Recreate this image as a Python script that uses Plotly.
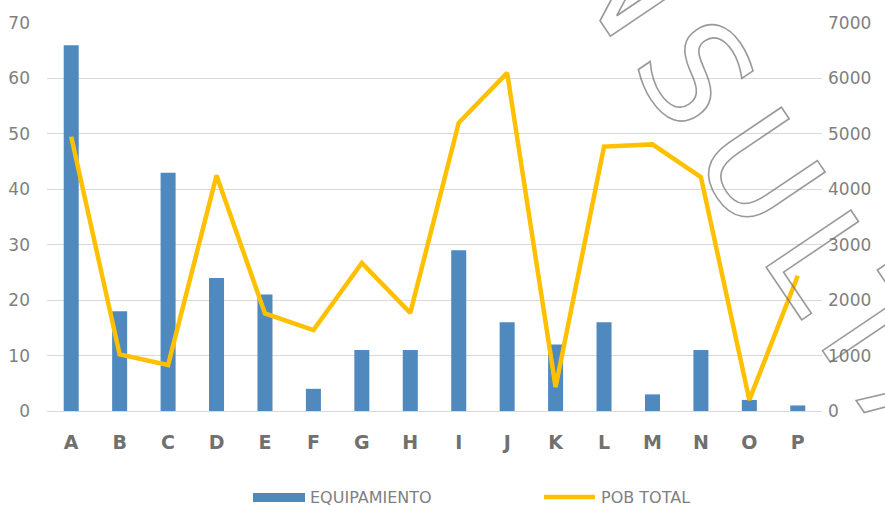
import plotly.graph_objects as go

# Data
categories = ["A", "B", "C", "D", "E", "F", "G", "H", "I", "J", "K", "L", "M", "N", "O", "P"]
equipamiento = [66, 18, 43, 24, 21, 4, 11, 11, 29, 16, 12, 16, 3, 11, 2, 1]
pob_total = [4950, 1020, 830, 4250, 1760, 1460, 2670, 1770, 5200, 6100, 430, 4770, 4810, 4220, 200, 2440]
left_ticks = [0, 10, 20, 30, 40, 50, 60, 70]
right_ticks = [0, 1000, 2000, 3000, 4000, 5000, 6000, 7000]

BAR_COLOR = "#4f89bd"
LINE_COLOR = "#ffc000"
GRID = "#d9d9d9"
TICK_GRAY = "#7f7f7f"
FONT = "DejaVu Sans"

# plot area in pixels, used to place legend items in paper coordinates
PL, PR, PT, PB = 47, 822, 23, 411


def px(x):
    return (x - PL) / (PR - PL)


def py(y):
    return (PB - y) / (PB - PT)


fig = go.Figure()
fig.add_trace(go.Bar(
    x=categories, y=equipamiento, name="EQUIPAMIENTO",
    marker=dict(color=BAR_COLOR, line=dict(width=0)),
    yaxis="y", showlegend=False,
))
fig.add_trace(go.Scatter(
    x=categories, y=pob_total, name="POB TOTAL", mode="lines",
    line=dict(color=LINE_COLOR, width=4.5),
    yaxis="y2", showlegend=False,
))

fig.update_layout(
    width=885, height=506,
    margin=dict(l=PL, r=885 - PR, t=PT, b=506 - PB),
    paper_bgcolor="white", plot_bgcolor="white",
    bargap=0.69,
    font=dict(family=FONT, color=TICK_GRAY),
    xaxis=dict(
        showgrid=False, showline=False, zeroline=False, automargin=False,
        tickfont=dict(family=FONT, size=19, color="#707070", weight="bold"),
        ticks="", ticklabelstandoff=18,
    ),
    yaxis=dict(
        range=[0, 70], tickvals=left_ticks, showgrid=True, gridcolor=GRID, gridwidth=1.3,
        zeroline=True, zerolinecolor=GRID, zerolinewidth=1.3, showline=False,
        automargin=False,
        tickfont=dict(family=FONT, size=17, color=TICK_GRAY), ticks="",
        ticklabelstandoff=16,
    ),
    yaxis2=dict(
        range=[0, 7000], tickvals=right_ticks, overlaying="y", side="right",
        showgrid=False, zeroline=False, showline=False, automargin=False,
        tickfont=dict(family=FONT, size=17, color=TICK_GRAY), ticks="",
        ticklabelstandoff=5,
    ),
)

# Legend drawn in paper coordinates: wide bar swatch and line swatch
fig.add_shape(type="rect", xref="paper", yref="paper",
              x0=px(253), x1=px(305), y0=py(502), y1=py(493),
              fillcolor=BAR_COLOR, line=dict(width=0))
fig.add_annotation(text="EQUIPAMIENTO", xref="paper", yref="paper",
                   x=px(308), y=py(497.5),
                   xanchor="left", yanchor="middle", showarrow=False,
                   font=dict(family=FONT, size=16, color=TICK_GRAY))
fig.add_shape(type="line", xref="paper", yref="paper",
              x0=px(544), x1=px(595), y0=py(497), y1=py(497),
              line=dict(color=LINE_COLOR, width=4.5))
fig.add_annotation(text="POB TOTAL", xref="paper", yref="paper",
                   x=px(599), y=py(497.5),
                   xanchor="left", yanchor="middle", showarrow=False,
                   font=dict(family=FONT, size=16, color=TICK_GRAY))

# Outlined diagonal watermark text
fig.add_annotation(text="CONSULTA", xref="paper", yref="paper",
                   x=px(710), y=py(98),
                   xanchor="center", yanchor="middle", showarrow=False,
                   textangle=56,
                   font=dict(family=FONT, size=140, color="rgba(0,0,0,0)"))

outline_js = """
document.querySelectorAll('text.annotation-text').forEach(function(t){
  if (t.textContent === 'CONSULTA') {
    t.style.fill = 'none';
    t.style.stroke = 'rgba(110,110,110,0.7)';
    t.style.strokeWidth = '1.6px';
    t.style.letterSpacing = '20px';
  }
});
"""

fig.write_html("out.html", post_script=outline_js)
